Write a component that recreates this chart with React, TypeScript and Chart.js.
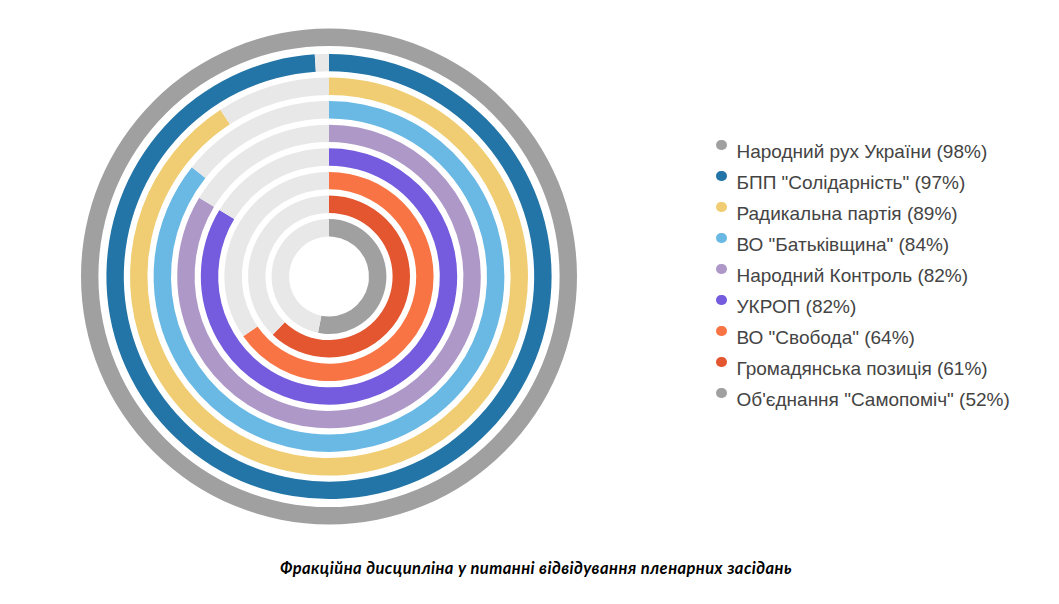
import React, { useEffect, useRef } from "react";
import { Chart, registerables } from "chart.js";

Chart.register(...registerables);

const parties: string[] = [
  "Народний рух України",
  "БПП \"Солідарність\"",
  "Радикальна партія",
  "ВО \"Батьківщина\"",
  "Народний Контроль",
  "УКРОП",
  "ВО \"Свобода\"",
  "Громадянська позиція",
  "Об'єднання \"Самопоміч\"",
];

const attendance: number[] = [98, 97, 89, 84, 82, 82, 64, 61, 52];

const colors: string[] = [
  "#a0a0a0",
  "#2375a7",
  "#f0cd72",
  "#69b9e4",
  "#ae98c8",
  "#755bdd",
  "#f97444",
  "#e35630",
  "#a0a0a0",
];

const trackColor = "#e8e8e8";

const titleText = "Фракційна дисципліна у питанні відвідування пленарних засідань";

const RING = 17.4;
const GAP = 6.2;
const OUTER_GAP = 8;
const OUTER_R = 248;
const INNER_R = 40;

export default function App() {
  const canvasRef = useRef<HTMLCanvasElement | null>(null);

  useEffect(() => {
    if (!canvasRef.current) return;
    const maxValue = Math.max(...attendance);
    const datasets: any[] = [];
    attendance.forEach((v, i) => {
      if (i > 0) {
        datasets.push({
          data: [maxValue],
          backgroundColor: ["rgba(0,0,0,0)"],
          borderWidth: 0,
          weight: i === 1 ? OUTER_GAP : GAP,
        });
      }
      datasets.push({
        label: parties[i],
        data: [v, maxValue - v],
        backgroundColor: [colors[i], trackColor],
        borderWidth: 0,
        weight: RING,
      });
    });

    const chart = new Chart(canvasRef.current, {
      type: "doughnut",
      data: { labels: ["value", "rest"], datasets },
      options: {
        animation: false,
        responsive: true,
        maintainAspectRatio: false,
        radius: OUTER_R,
        cutout: (INNER_R / OUTER_R) * 100 + "%",
        layout: { padding: 0 },
        plugins: {
          legend: { display: false },
          tooltip: { enabled: false },
        },
        events: [],
      } as any,
    });
    return () => chart.destroy();
  }, []);

  return (
    <div>
      <div
        style={{
          position: "absolute",
          left: 0,
          top: 0,
          width: 658,
          height: 553,
        }}
      >
        <canvas ref={canvasRef} />
      </div>
      {parties.map((p, i) => (
        <div
          key={i}
          style={{
            position: "absolute",
            left: 716,
            top: 136 + i * 31,
            height: 31,
            lineHeight: "31px",
            whiteSpace: "nowrap",
            fontFamily: "'Liberation Sans', Arial, sans-serif",
            fontSize: 19,
            color: "#444",
          }}
        >
          <span
            style={{
              position: "absolute",
              left: 0,
              top: 3.5,
              width: 10.5,
              height: 10.5,
              borderRadius: "50%",
              background: colors[i],
            }}
          />
          <span style={{ position: "absolute", left: 20.5, top: 0 }}>
            {p + " (" + attendance[i] + "%)"}
          </span>
        </div>
      ))}
      <div
        style={{
          position: "absolute",
          left: 536,
          top: 558,
          transform: "translateX(-50%)",
          whiteSpace: "nowrap",
          fontFamily: "Lato, 'Open Sans', sans-serif",
          fontStyle: "italic",
          fontWeight: 700,
          fontSize: 16.5,
          letterSpacing: "0.44px",
          lineHeight: "20px",
          color: "#000",
        }}
      >
        {titleText}
      </div>
    </div>
  );
}
